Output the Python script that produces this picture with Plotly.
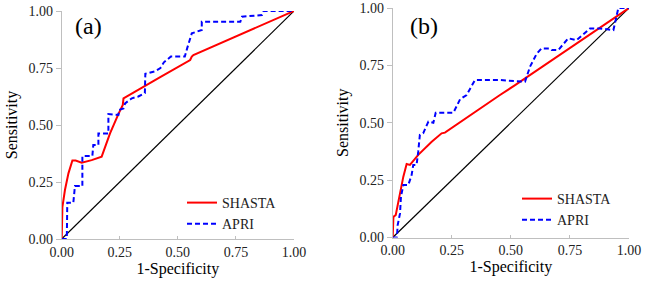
import plotly.graph_objects as go

# ---------------- data ----------------
tick_vals = [0, 0.25, 0.5, 0.75, 1.0]
tick_text = ["0.00", "0.25", "0.50", "0.75", "1.00"]

# Panel (a)
a_shasta_x = [0, 0, 0.003, 0.014, 0.029, 0.046, 0.060, 0.086, 0.129, 0.172, 0.180, 0.208, 0.244,
              0.263, 0.266, 0.302, 0.424, 0.553, 0.560, 0.567, 1.0]
a_shasta_y = [0, 0.08, 0.14, 0.215, 0.288, 0.344, 0.344, 0.335, 0.346, 0.361, 0.383, 0.463, 0.548,
              0.588, 0.617, 0.639, 0.710, 0.785, 0.800, 0.807, 1.0]

a_apri_x = [0, 0.022, 0.024, 0.050, 0.057, 0.089, 0.089, 0.132, 0.136, 0.158, 0.158, 0.201, 0.201,
            0.244, 0.247, 0.266, 0.273, 0.302, 0.330, 0.358, 0.360, 0.400, 0.425, 0.440, 0.470,
            0.530, 0.540, 0.553, 0.560, 0.603, 0.603, 0.769, 0.776, 0.862, 0.869, 1.0]
a_apri_y = [0, 0, 0.159, 0.159, 0.232, 0.232, 0.364, 0.364, 0.412, 0.412, 0.463, 0.463, 0.548,
            0.544, 0.566, 0.573, 0.595, 0.617, 0.625, 0.640, 0.725, 0.735, 0.750, 0.775, 0.800,
            0.800, 0.836, 0.880, 0.902, 0.917, 0.953, 0.953, 0.975, 0.982, 1.0, 1.0]

# Panel (b)
b_shasta_x = [0, 0.003, 0.013, 0.027, 0.045, 0.059, 0.073, 0.108, 0.165, 0.207, 0.221, 0.454,
              0.518, 1.0]
b_shasta_y = [0, 0.090, 0.098, 0.178, 0.265, 0.320, 0.316, 0.360, 0.417, 0.454, 0.457, 0.621,
              0.664, 1.0]

b_apri_x = [0, 0.018, 0.021, 0.031, 0.035, 0.045, 0.066, 0.080, 0.087, 0.101, 0.108, 0.115,
            0.129, 0.139, 0.151, 0.172, 0.182, 0.257, 0.285, 0.313, 0.348, 0.454, 0.539, 0.560,
            0.581, 0.609, 0.630, 0.665, 0.673, 0.701, 0.743, 0.778, 0.835, 0.877, 0.934, 0.948,
            0.955, 1.0]
b_apri_y = [0, 0, 0.054, 0.105, 0.178, 0.229, 0.229, 0.272, 0.316, 0.316, 0.374, 0.447,
            0.454, 0.476, 0.505, 0.500, 0.544, 0.544, 0.602, 0.621, 0.686, 0.686, 0.683, 0.679,
            0.744, 0.800, 0.824, 0.824, 0.817, 0.817, 0.868, 0.860, 0.911, 0.911, 0.904, 0.969,
            1.0, 1.0]

diag = [0, 1]

series_names = ["SHASTA", "APRI"]
panel_labels = ["(a)", "(b)"]
x_title = "1-Specificity"
y_title = "Sensitivity"

# ---------------- styles ----------------
RED = "#FF0000"
BLUE = "#0000FF"
AXIS = "#BFBFBF"
FONT = "Liberation Serif"

fig = go.Figure()

panels = [
    ("x", "y", a_shasta_x, a_shasta_y, a_apri_x, a_apri_y, "legend"),
    ("x2", "y2", b_shasta_x, b_shasta_y, b_apri_x, b_apri_y, "legend2"),
]
for xa, ya, sx, sy, ax_, ay_, lg in panels:
    fig.add_trace(go.Scatter(x=diag, y=diag, mode="lines", xaxis=xa, yaxis=ya,
                             line=dict(color="black", width=1.2), showlegend=False,
                             hoverinfo="skip"))
    fig.add_trace(go.Scatter(x=sx, y=sy, mode="lines", name=series_names[0], xaxis=xa, yaxis=ya,
                             line=dict(color=RED, width=2), legend=lg))
    fig.add_trace(go.Scatter(x=ax_, y=ay_, mode="lines", name=series_names[1], xaxis=xa, yaxis=ya,
                             line=dict(color=BLUE, width=2, dash="5px,3px"), legend=lg))

def xaxis_style(domain, anchor):
    return dict(domain=domain, anchor=anchor, range=[0, 1], tickvals=tick_vals, ticktext=tick_text,
                showline=True, linecolor=AXIS, linewidth=1, ticks="inside", ticklen=3,
                tickcolor=AXIS, showgrid=False, zeroline=False, automargin=False,
                ticklabeloverflow="allow",
                tickfont=dict(family=FONT, size=14, color="#222"),
                title=dict(text=x_title, font=dict(family=FONT, size=16, color="black"), standoff=2))

def yaxis_style(domain, anchor):
    return dict(domain=domain, anchor=anchor, range=[0, 1], tickvals=tick_vals, ticktext=tick_text,
                showline=True, linecolor=AXIS, linewidth=1, ticks="outside", ticklen=5,
                tickcolor=AXIS, showgrid=False, zeroline=False, automargin=False,
                ticklabeloverflow="allow",
                tickfont=dict(family=FONT, size=14, color="#222"),
                title=dict(text=y_title, font=dict(family=FONT, size=16, color="black"), standoff=6))

W, H = 650, 284
def px(x):
    return x / W
def py(y):
    return 1 - y / H

fig.update_layout(
    width=W, height=H,
    margin=dict(l=0, r=0, t=0, b=0, autoexpand=False),
    paper_bgcolor="white", plot_bgcolor="white",
    showlegend=True,
    font=dict(family=FONT),
    xaxis=xaxis_style([px(61.7), px(294)], "y"),
    yaxis=yaxis_style([py(239), py(11)], "x"),
    xaxis2=xaxis_style([px(392.7), px(629)], "y2"),
    yaxis2=yaxis_style([py(237.5), py(8)], "x2"),
    legend=dict(x=px(182), y=py(187), xanchor="left", yanchor="top",
                bgcolor="rgba(0,0,0,0)", font=dict(family=FONT, size=14, color="#222"),
                tracegroupgap=0),
    legend2=dict(x=px(517), y=py(183), xanchor="left", yanchor="top",
                 bgcolor="rgba(0,0,0,0)", font=dict(family=FONT, size=14, color="#222"),
                 tracegroupgap=0),
    annotations=[
        dict(text=panel_labels[0], x=px(88.5), y=py(26), xref="paper", yref="paper",
             xanchor="center", yanchor="middle",
             showarrow=False, font=dict(family=FONT, size=24, color="black")),
        dict(text=panel_labels[1], x=px(423.5), y=py(26), xref="paper", yref="paper",
             xanchor="center", yanchor="middle",
             showarrow=False, font=dict(family=FONT, size=24, color="black")),
    ],
)

fig.write_html("out.html", config={"displayModeBar": False},
               post_script="document.body.style.margin='0px';")
